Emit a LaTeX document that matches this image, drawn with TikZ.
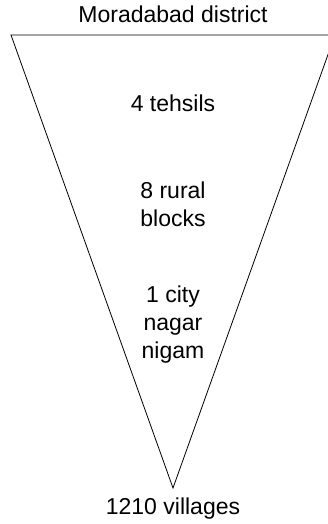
\documentclass[tikz,border=0pt]{standalone}
\usepackage{fontspec}
\setmainfont{Liberation Sans}
\usepackage{tikz}

\begin{document}
\begin{tikzpicture}[x=1pt, y=-1pt, line width=0.8pt,
    label/.style={font=\fontsize{23}{28}\selectfont, align=center, inner sep=0pt}]

  \useasboundingbox (0,0) rectangle (327,524);

  % funnel: wide top, apex at the bottom
  \coordinate (tl) at (11,35);
  \coordinate (tr) at (335,35);
  \coordinate (apex) at (173,488);
  \draw (tl) -- (tr) -- (apex) -- cycle;

  \node[label] (district) at (173,14) {Moradabad district};
  \node[label] (tehsils)  at (173,103) {4 tehsils};
  \node[label] (blocks)   at (173,204) {8 rural\\blocks};
  \node[label] (nigam)    at (173,325) {1 city\\nagar\\nigam};
  \node[label] (villages) at (173,509) {1210 villages};

\end{tikzpicture}
\end{document}
